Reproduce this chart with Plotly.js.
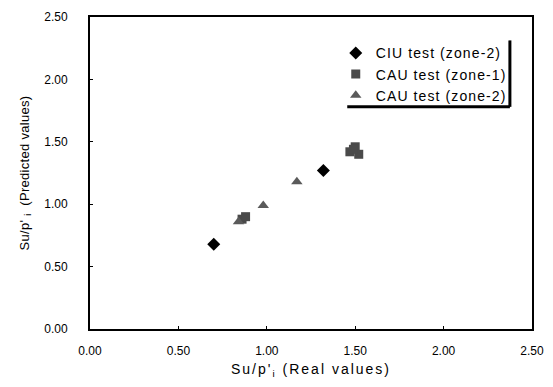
<!DOCTYPE html>
<html><head><meta charset="utf-8">
<script src="https://cdn.plot.ly/plotly-3.0.1.min.js"></script>
<style>body{margin:0;background:#fff}#c{width:553px;height:387px}
.legendtext{letter-spacing:1.1px}
.xtitle{letter-spacing:2px}
.ytitle{letter-spacing:0.3px}
</style>
</head><body><div id="c"></div>
<script>
const seriesNames = ["CIU test (zone-2)", "CAU test (zone-1)", "CAU test (zone-2)"];
const ciuReal = [0.70, 1.32];
const ciuPred = [0.68, 1.27];
const cau1Real = [0.86, 0.88, 1.47, 1.50, 1.52, 1.49];
const cau1Pred = [0.88, 0.90, 1.42, 1.46, 1.40, 1.44];
const cau2Real = [0.84, 0.98, 1.17];
const cau2Pred = [0.86, 0.99, 1.18];
const tickVals = [0, 0.5, 1, 1.5, 2, 2.5];
const tickText = ["0.00", "0.50", "1.00", "1.50", "2.00", "2.50"];

const font = {family: "Liberation Sans, Arial, sans-serif", color: "#000"};
const traces = [
  {x: ciuReal, y: ciuPred, name: seriesNames[0], type: "scatter", mode: "markers",
   marker: {symbol: "diamond", size: 10, color: "#000"}},
  {x: cau1Real, y: cau1Pred, name: seriesNames[1], type: "scatter", mode: "markers",
   marker: {symbol: "square", size: 9, color: "#4a4a4a"}},
  {x: cau2Real, y: cau2Pred, name: seriesNames[2], type: "scatter", mode: "markers",
   marker: {symbol: "triangle-up", size: 10, color: "#5a5a5a"}}
];
const axisBase = {range: [0, 2.5], tickvals: tickVals, ticktext: tickText, showgrid: false,
  zeroline: false, showline: true, linecolor: "#000", linewidth: 2, mirror: true,
  ticks: "inside", ticklen: 3, tickcolor: "#000", tickfont: Object.assign({size: 12}, font)};
const layout = {
  width: 553, height: 387,
  margin: {l: 90, r: 21, t: 17, b: 58},
  paper_bgcolor: "#fff", plot_bgcolor: "#fff",
  font: font,
  showlegend: true,
  legend: {x: 0.556, y: 0.935, xanchor: "left", yanchor: "top", bgcolor: "rgba(0,0,0,0)",
    borderwidth: 0, font: Object.assign({size: 14}, font), itemwidth: 30, tracegroupgap: 0},
  xaxis: Object.assign({}, axisBase, {ticklabelstandoff: 10,
    title: {text: "Su/p'<sub>i</sub> (Real values)", font: Object.assign({size: 14}, font), standoff: 7}}),
  yaxis: Object.assign({}, axisBase, {ticklabelstandoff: 18,
    title: {text: "Su/p' <sub>i</sub>  (Predicted values)", font: Object.assign({size: 13}, font), standoff: 12}}),
  shapes: [
    {type: "line", xref: "paper", yref: "paper", x0: 0.950, x1: 0.950, y0: 0.712, y1: 0.925,
     line: {color: "#000", width: 3}},
    {type: "line", xref: "paper", yref: "paper", x0: 0.582, x1: 0.950, y0: 0.712, y1: 0.712,
     line: {color: "#000", width: 3}}
  ]
};
Plotly.newPlot("c", traces, layout, {displayModeBar: false, staticPlot: true});
</script></body></html>
